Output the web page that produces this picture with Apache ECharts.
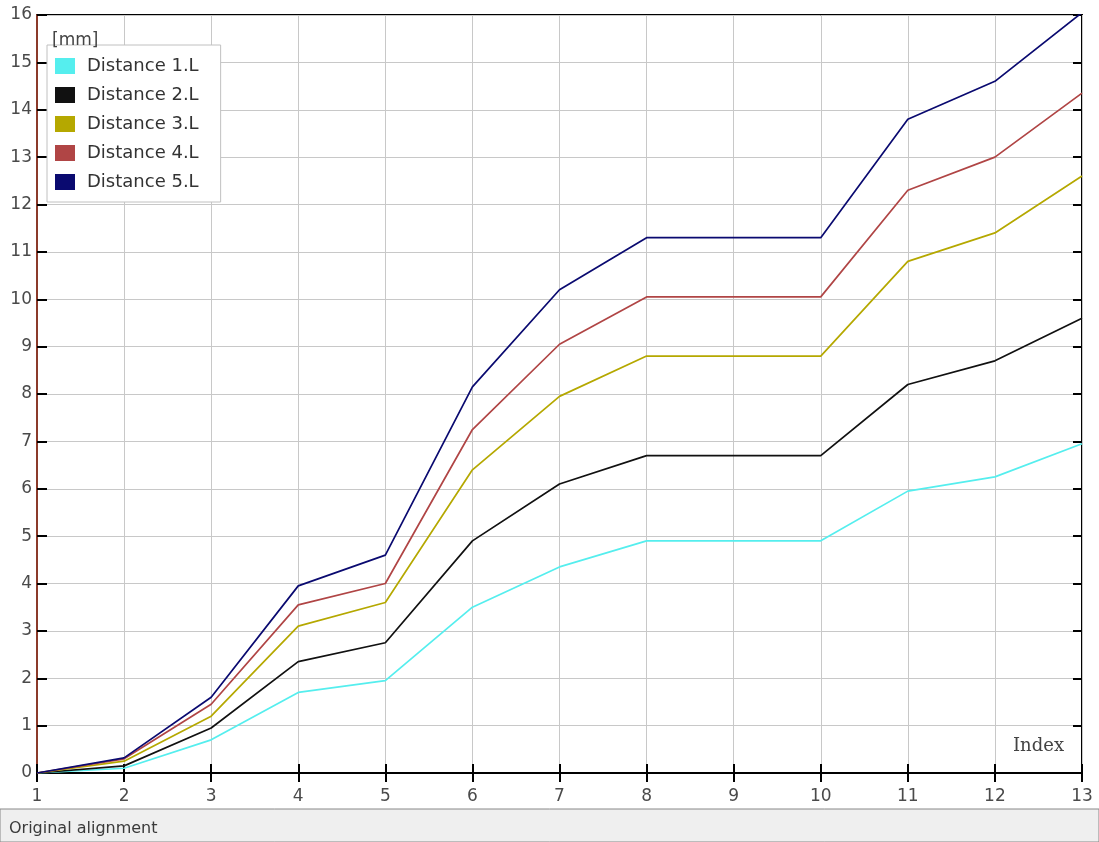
<!DOCTYPE html>
<html><head><meta charset="utf-8">
<script src="https://cdn.jsdelivr.net/npm/echarts@6/dist/echarts.min.js"></script>
<style>html,body{margin:0;padding:0;background:#fff}#c{width:1099px;height:842px}</style>
</head><body><div id="c"></div>
<script>
const xValues = [1,2,3,4,5,6,7,8,9,10,11,12,13];
const seriesNames = ['Distance 1.L','Distance 2.L','Distance 3.L','Distance 4.L','Distance 5.L'];
const d1 = [0, 0.1, 0.7, 1.7, 1.95, 3.5, 4.35, 4.9, 4.9, 4.9, 5.95, 6.25, 6.95];
const d2 = [0, 0.15, 0.95, 2.35, 2.75, 4.9, 6.1, 6.7, 6.7, 6.7, 8.2, 8.7, 9.6];
const d3 = [0, 0.25, 1.2, 3.1, 3.6, 6.4, 7.95, 8.8, 8.8, 8.8, 10.8, 11.4, 12.6];
const d4 = [0, 0.3, 1.45, 3.55, 4.0, 7.25, 9.05, 10.05, 10.05, 10.05, 12.3, 13.0, 14.35];
const d5 = [0, 0.32, 1.6, 3.95, 4.6, 8.15, 10.2, 11.3, 11.3, 11.3, 13.8, 14.6, 16.05];
const colors = ['#55eeee','#111111','#b5a800','#b04545','#0a0a70'];
const allData = [d1,d2,d3,d4,d5];

const chart = echarts.init(document.getElementById('c'));
const font = 'DejaVu Sans';
const gridLine = {show:true, lineStyle:{color:'#c8c8c8', width:1}};
chart.setOption({
  animation:false,
  backgroundColor:'#fff',
  grid:{left:37, right:17, top:15, bottom:69, show:true, borderColor:'#000', borderWidth:2, backgroundColor:'#fff'},
  xAxis:[
    {type:'value', min:1, max:13, interval:1, position:'bottom',
     axisLine:{show:true, onZero:false, lineStyle:{color:'#000', width:2}},
     axisTick:{show:true, inside:true, length:9, lineStyle:{color:'#000', width:2}},
     axisLabel:{color:'#4a4a4a', fontFamily:font, fontSize:17, margin:15},
     splitLine:gridLine},
    {type:'value', min:1, max:13, interval:1, position:'top',
     axisLine:{show:false},
     axisTick:{show:true, inside:true, length:9, lineStyle:{color:'#000', width:2}},
     axisLabel:{show:false}, splitLine:{show:false}}
  ],
  yAxis:[
    {type:'value', min:0, max:16, interval:1, position:'left',
     axisLine:{show:true, onZero:false, lineStyle:{color:'#8b3a2a', width:2}},
     axisTick:{show:true, inside:true, length:10, lineStyle:{color:'#000', width:2}},
     axisLabel:{color:'#4a4a4a', fontFamily:font, fontSize:17, margin:5},
     splitLine:gridLine},
    {type:'value', min:0, max:16, interval:1, position:'right',
     axisLine:{show:false},
     axisTick:{show:true, inside:true, length:9, lineStyle:{color:'#000', width:2}},
     axisLabel:{show:false}, splitLine:{show:false}}
  ],
  legend:{
    orient:'vertical', left:47, top:45, padding:[12,22,11,8],
    itemWidth:20, itemHeight:16, itemGap:11, icon:'rect',
    backgroundColor:'#fff', borderColor:'#c0c0c0', borderWidth:1,
    textStyle:{fontFamily:font, fontSize:18, lineHeight:18, color:'#333', padding:[0,0,0,7]},
    data:seriesNames
  },
  series: allData.map((d,i)=>({
    name:seriesNames[i], type:'line', showSymbol:false, symbol:'none',
    data:d.map((v,j)=>[xValues[j], v]),
    lineStyle:{color:colors[i], width:1.7}, itemStyle:{color:colors[i]},
    z:2+i
  })),
  graphic:[
    {type:'text', left:52, top:32, style:{text:'[mm]', font:'17px DejaVu Sans', fill:'#444'}, z:100},
    {type:'text', left:1013, top:737, style:{text:'Index', font:'18px DejaVu Serif', fill:'#444'}, z:100},
    {type:'rect', shape:{x:0, y:809, width:1099, height:33}, style:{fill:'#efefef', stroke:'#888', lineWidth:1}, z:50},
    {type:'text', left:9, top:821, style:{text:'Original alignment', font:'16px DejaVu Sans', fill:'#3a3a3a'}, z:100}
  ]
});
</script></body></html>
